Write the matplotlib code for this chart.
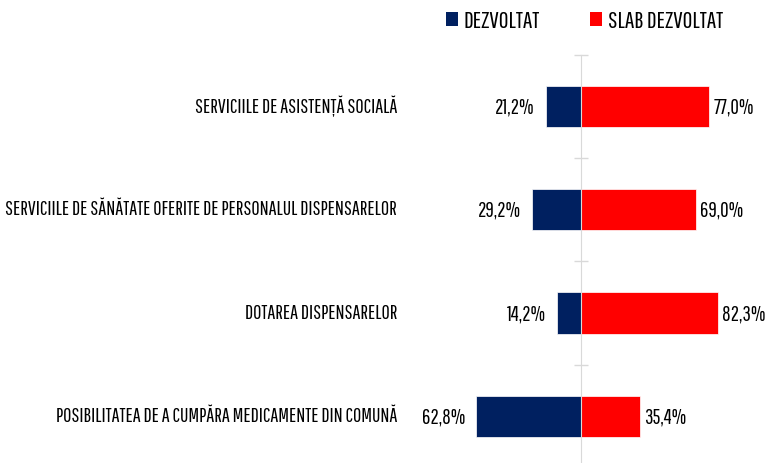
import matplotlib
matplotlib.use('Agg')
import matplotlib.pyplot as plt
from matplotlib.patches import Patch

# Data
categories = ['SERVICIILE DE ASISTENȚĂ SOCIALĂ',
              'SERVICIILE DE SĂNĂTATE OFERITE DE PERSONALUL DISPENSARELOR',
              'DOTAREA DISPENSARELOR',
              'POSIBILITATEA DE A CUMPĂRA MEDICAMENTE DIN COMUNĂ']
dezvoltat = [21.2, 29.2, 14.2, 62.8]
slab_dezvoltat = [77.0, 69.0, 82.3, 35.4]
series_names = ['DEZVOLTAT', 'SLAB DEZVOLTAT']

navy = '#002060'
red = '#FF0000'

plt.rcParams['font.family'] = ['Pathway Gothic One', 'Antonio', 'DejaVu Sans']

fig = plt.figure(figsize=(7.73, 4.64), dpi=100)
ax = fig.add_axes([0, -0.0108, 1, 0.8905])

y = list(range(len(categories)))
left_vals = [-v for v in dezvoltat]
ax.barh(y, left_vals, height=0.4, color=navy, edgecolor='white', linewidth=0.5, zorder=2)
ax.barh(y, slab_dezvoltat, height=0.4, color=red, edgecolor='white', linewidth=0.5, zorder=2)

ax.set_xlim(-348.9, 115.3)
ax.set_ylim(len(categories) - 0.5, -0.5)

# vertical axis at zero with boundary ticks
for s in ['top', 'right', 'bottom']:
    ax.spines[s].set_visible(False)
ax.spines['left'].set_position(('data', 0))
ax.spines['left'].set_color('#d9d9d9')
ax.spines['left'].set_zorder(3)
ax.set_yticks([i - 0.5 for i in y])
ax.set_yticklabels([])
ax.tick_params(axis='y', direction='inout', length=9.5, color='#d9d9d9', width=1)
ax.set_xticks([])

# category labels
for i, cat in enumerate(categories):
    ax.text(0.5136, i - 0.01, cat, transform=ax.get_yaxis_transform(), ha='right', va='center',
            fontsize=14.4, color='black')

# value labels
for i in y:
    ax.annotate(f'{dezvoltat[i]:.1f}%'.replace('.', ','), (left_vals[i], i),
                xytext=(-8, 0), textcoords='offset points', ha='right', va='center', fontsize=15)
    ax.annotate(f'{slab_dezvoltat[i]:.1f}%'.replace('.', ','), (slab_dezvoltat[i], i),
                xytext=(3, 0), textcoords='offset points', ha='left', va='center', fontsize=15)

handles = [Patch(facecolor=navy), Patch(facecolor=red)]
fig.legend(handles, series_names, loc='center left', bbox_to_anchor=(0.577, 0.953), ncol=2,
           frameon=False, fontsize=17.2, handlelength=0.5, handleheight=0.5,
           handletextpad=0.25, columnspacing=2.1, borderpad=0, borderaxespad=0)

fig.savefig('out.png', dpi=100)
plt.close(fig)
